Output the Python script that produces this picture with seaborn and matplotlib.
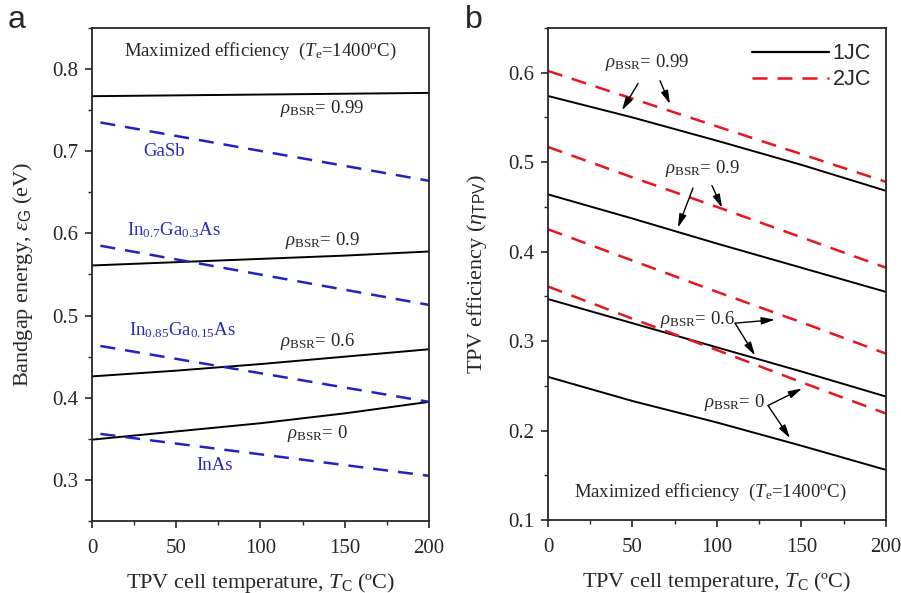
import matplotlib
matplotlib.use("Agg")
import matplotlib.pyplot as plt
from matplotlib.lines import Line2D
from matplotlib.ticker import MultipleLocator, FormatStrFormatter
import numpy as np
import pandas as pd
import seaborn as sns

# ---------------- data ----------------
# Panel a: optimal bandgap vs cell temperature
T_a = [0, 50, 100, 150, 200]
eg_rho099 = [0.767, 0.768, 0.769, 0.770, 0.771]
eg_rho09 = [0.561, 0.565, 0.569, 0.573, 0.578]
eg_rho06 = [0.426, 0.433, 0.441, 0.450, 0.459]
eg_rho0 = [0.349, 0.359, 0.369, 0.381, 0.395]

# Material bandgaps (blue dashed)
T_mat = [5, 200]
eg_GaSb = [0.735, 0.664]
eg_In07 = [0.585, 0.513]
eg_In085 = [0.463, 0.395]
eg_InAs = [0.356, 0.305]

# Panel b: TPV efficiency
T_b = [0, 50, 100, 150, 200]
eff_1jc_099 = [0.574, 0.550, 0.524, 0.497, 0.468]
eff_1jc_09 = [0.464, 0.437, 0.409, 0.382, 0.355]
eff_1jc_06 = [0.347, 0.320, 0.293, 0.266, 0.238]
eff_1jc_0 = [0.260, 0.233, 0.209, 0.183, 0.156]
eff_2jc_099 = [0.602, 0.571, 0.540, 0.509, 0.478]
eff_2jc_09 = [0.517, 0.483, 0.450, 0.416, 0.382]
eff_2jc_06 = [0.425, 0.390, 0.355, 0.321, 0.286]
eff_2jc_0 = [0.361, 0.325, 0.290, 0.254, 0.219]

# ---------------- style ----------------
sns.set_style("ticks")
plt.rcParams["font.family"] = ["Liberation Serif", "DejaVu Serif"]
plt.rcParams["mathtext.fontset"] = "custom"
plt.rcParams["mathtext.rm"] = "Liberation Serif"
plt.rcParams["mathtext.it"] = "Liberation Serif:italic"
plt.rcParams["mathtext.bf"] = "Liberation Serif:bold"
plt.rcParams["mathtext.sf"] = "Liberation Sans"
plt.rcParams["axes.linewidth"] = 1.3
plt.rcParams["xtick.major.width"] = 1.2
plt.rcParams["ytick.major.width"] = 1.2
plt.rcParams["xtick.minor.width"] = 1.0
plt.rcParams["ytick.minor.width"] = 1.0
plt.rcParams["xtick.direction"] = "out"
plt.rcParams["ytick.direction"] = "out"

BLUE = "#2222c4"
RED = "#e8141e"
TXT_BLUE = "#2a2ab8"
dash = (0, (6, 4))

fig = plt.figure(figsize=(9.01, 5.93), dpi=100)
axa = fig.add_axes([0.1021, 0.1214, 0.374, 0.8314])
axb = fig.add_axes([0.6082, 0.1231, 0.3751, 0.8297])

# ---------------- panel a ----------------
for ys in [eg_rho099, eg_rho09, eg_rho06, eg_rho0]:
    df = pd.DataFrame({"T": T_a, "E": ys})
    sns.lineplot(data=df, x="T", y="E", ax=axa, color="black", lw=1.4)
for ys in [eg_GaSb, eg_In07, eg_In085, eg_InAs]:
    df = pd.DataFrame({"T": T_mat, "E": ys})
    sns.lineplot(data=df, x="T", y="E", ax=axa, color=BLUE, lw=1.8, linestyle=dash)

axa.set_xlim(0, 200)
axa.set_ylim(0.25, 0.85)
axa.xaxis.set_major_locator(MultipleLocator(50))
axa.xaxis.set_minor_locator(MultipleLocator(25))
axa.yaxis.set_minor_locator(MultipleLocator(0.05))
axa.set_yticks([0.3, 0.4, 0.5, 0.6, 0.7, 0.8])
axa.yaxis.set_major_formatter(FormatStrFormatter("%.1f"))
axa.set_xlabel(r"TPV cell temperature, $T_{\rm C}$ (ºC)", fontsize=16, labelpad=9)
axa.set_ylabel(r"Bandgap energy, $\varepsilon_{\mathsf{G}}$ (eV)", fontsize=16, labelpad=12)

fs = 13.5
axa.text(100, 0.821, r"Maximized efficiency  ($T_{\rm e}$=1400$^{\rm o}$C)", ha="center", va="center", fontsize=fs)
axa.text(136.5, 0.752, r"$\rho_{\rm BSR}$= 0.99", ha="center", va="center", fontsize=fs)
axa.text(136.5, 0.5915, r"$\rho_{\rm BSR}$= 0.9", ha="center", va="center", fontsize=fs)
axa.text(133.5, 0.469, r"$\rho_{\rm BSR}$= 0.6", ha="center", va="center", fontsize=fs)
axa.text(133.5, 0.357, r"$\rho_{\rm BSR}$= 0", ha="center", va="center", fontsize=fs)
axa.text(42.7, 0.700, "GaSb", ha="center", va="center", fontsize=fs, color=TXT_BLUE)
axa.text(48.7, 0.604, r"In$_{0.7}$Ga$_{0.3}$As", ha="center", va="center", fontsize=fs, color=TXT_BLUE)
axa.text(53.4, 0.482, r"In$_{0.85}$Ga$_{0.15}$As", ha="center", va="center", fontsize=fs, color=TXT_BLUE)
axa.text(73, 0.318, "InAs", ha="center", va="center", fontsize=fs, color=TXT_BLUE)

# ---------------- panel b ----------------
for ys in [eff_1jc_099, eff_1jc_09, eff_1jc_06, eff_1jc_0]:
    df = pd.DataFrame({"T": T_b, "eff": ys})
    sns.lineplot(data=df, x="T", y="eff", ax=axb, color="black", lw=1.4)
for ys in [eff_2jc_099, eff_2jc_09, eff_2jc_06, eff_2jc_0]:
    df = pd.DataFrame({"T": T_b, "eff": ys})
    sns.lineplot(data=df, x="T", y="eff", ax=axb, color=RED, lw=1.8, linestyle=dash)

axb.set_xlim(0, 200)
axb.set_ylim(0.1, 0.65)
axb.xaxis.set_major_locator(MultipleLocator(50))
axb.xaxis.set_minor_locator(MultipleLocator(25))
axb.yaxis.set_minor_locator(MultipleLocator(0.05))
axb.set_yticks([0.1, 0.2, 0.3, 0.4, 0.5, 0.6])
axb.yaxis.set_major_formatter(FormatStrFormatter("%.1f"))
axb.set_xlabel(r"TPV cell temperature, $T_{\rm C}$ (ºC)", fontsize=16, labelpad=9)
axb.set_ylabel(r"TPV efficiency ($\eta_{\mathsf{TPV}}$)", fontsize=16, labelpad=14)

axb.text(95.8, 0.131, r"Maximized efficiency  ($T_{\rm e}$=1400$^{\rm o}$C)", ha="center", va="center", fontsize=fs)
axb.text(58.6, 0.611, r"$\rho_{\rm BSR}$= 0.99", ha="center", va="center", fontsize=fs)
axb.text(91.1, 0.493, r"$\rho_{\rm BSR}$= 0.9", ha="center", va="center", fontsize=fs)
axb.text(88.2, 0.324, r"$\rho_{\rm BSR}$= 0.6", ha="center", va="center", fontsize=fs)
axb.text(110, 0.2317, r"$\rho_{\rm BSR}$= 0", ha="center", va="center", fontsize=fs)

arrows = [
    ((53.3, 0.588), (43.8, 0.558)),
    ((66.3, 0.591), (72.2, 0.565)),
    ((85.8, 0.471), (76.9, 0.427)),
    ((97.0, 0.474), (103.0, 0.449)),
    ((110.7, 0.320), (134.3, 0.324)),
    ((110.7, 0.320), (122.5, 0.284)),
    ((130.2, 0.228), (150.3, 0.247)),
    ((130.2, 0.228), (143.2, 0.1915)),
]
for tail, head in arrows:
    axb.annotate("", xy=head, xytext=tail,
                 arrowprops=dict(arrowstyle="-|>,head_length=0.8,head_width=0.22",
                                 color="black", lw=1.0, shrinkA=0, shrinkB=0))

handles = [Line2D([0], [0], color="black", lw=1.6),
           Line2D([0], [0], color=RED, lw=1.8, linestyle=dash)]
leg = axb.legend(handles, ["1JC", "2JC"], loc="upper right", frameon=False,
                 prop={"family": "Liberation Sans", "size": 15.5},
                 handlelength=3.6, handletextpad=0.15, borderaxespad=0.3, labelspacing=0.25)

for ax in (axa, axb):
    ax.tick_params(axis="both", which="major", labelsize=15, length=5)
    ax.tick_params(axis="y", which="major", pad=5)
    ax.tick_params(axis="x", which="major", pad=8)
    ax.tick_params(axis="both", which="minor", length=3)
    for s in ax.spines.values():
        s.set_visible(True)

fig.text(0.009, 0.992, "a", fontsize=23, family="Liberation Sans", va="top", ha="left")
fig.text(0.516, 0.992, "b", fontsize=23, family="Liberation Sans", va="top", ha="left")

fig.savefig("out.png", dpi=100)
